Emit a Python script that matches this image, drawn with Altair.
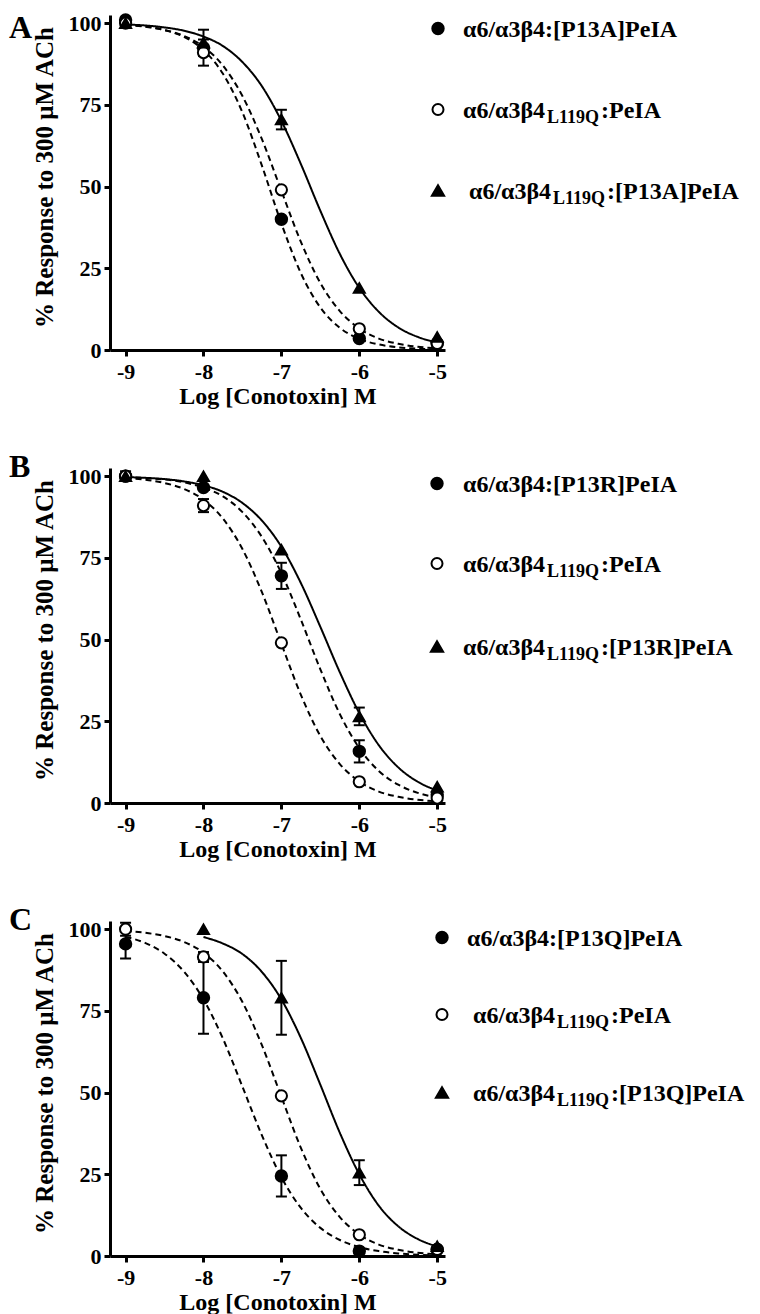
import altair as alt
import pandas as pd

# ---------------- data ----------------
DOSES = [-9, -8, -7, -6, -5]
X_TICKS = [-9, -8, -7, -6, -5]
Y_TICKS = [0, 25, 50, 75, 100]
SERIES = ["mut", "wt", "dbl"]

# fitted-curve samples (log M -> % response)
CURVE_X = [-9.0, -8.75, -8.5, -8.25, -8.0, -7.75, -7.5, -7.25, -7.0,
           -6.75, -6.5, -6.25, -6.0, -5.75, -5.5, -5.25, -5.0]
CURVE_X_FROM8 = [-8.0, -7.75, -7.5, -7.25, -7.0, -6.75, -6.5, -6.25, -6.0,
                 -5.75, -5.5, -5.25, -5.0]

WT_CURVE = [99.4, 98.9, 97.9, 96.1, 92.8, 87.0, 77.7, 64.5, 48.7, 33.1, 20.5, 11.9, 6.6, 3.5, 1.9, 1.0, 0.5]

# Panel A
A_MUT = [101.0, 92.5, 40.0, 3.5, 2.0]
A_MUT_ERR = [0, 0, 0, 0, 0]
A_WT = [100.0, 91.0, 49.0, 6.5, 2.0]
A_WT_ERR = [0, 4.0, 0, 0, 0]
A_DBL = [100.0, 94.0, 70.5, 19.0, 4.0]
A_DBL_ERR = [0, 4.0, 3.0, 0, 0]
A_MUT_CURVE = [99.5, 99.0, 97.9, 95.8, 91.8, 84.5, 72.7, 56.4, 38.7, 23.5, 13.0, 6.8, 3.4, 1.7, 0.8, 0.4, 0.2]
A_DBL_CURVE = [99.6, 99.3, 98.7, 97.7, 95.9, 93.0, 88.1, 80.7, 70.1, 56.9, 42.6, 29.4, 19.0, 11.7, 6.9, 4.0, 2.3]
A_NAMES = [("α6/α3β4:[P13A]PeIA", "", ""),
           ("α6/α3β4", "L119Q", ":PeIA"),
           ("α6/α3β4", "L119Q", ":[P13A]PeIA")]

# Panel B
B_MUT = [100.0, 96.5, 69.5, 15.8, 2.5]
B_MUT_ERR = [1.5, 0, 4.0, 3.4, 0]
B_WT = [100.0, 91.0, 49.0, 6.5, 1.5]
B_WT_ERR = [0, 2.0, 0, 0, 0]
B_DBL = [100.0, 100.0, 77.5, 26.5, 5.0]
B_DBL_ERR = [0, 0, 0, 2.7, 0]
B_MUT_CURVE = [99.7, 99.4, 99.0, 98.1, 96.5, 93.8, 89.0, 81.4, 70.3, 56.1, 40.9, 27.2, 16.8, 9.8, 5.6, 3.1, 1.7]
B_DBL_CURVE = [99.7, 99.5, 99.1, 98.4, 97.2, 95.2, 91.8, 86.4, 78.4, 67.3, 53.9, 40.0, 27.5, 17.7, 10.9, 6.5, 3.8]
B_NAMES = [("α6/α3β4:[P13R]PeIA", "", ""),
           ("α6/α3β4", "L119Q", ":PeIA"),
           ("α6/α3β4", "L119Q", ":[P13R]PeIA")]

# Panel C
C_MUT = [95.5, 79.0, 24.5, 1.5, 2.0]
C_MUT_ERR = [4.5, 11.0, 6.3, 0, 0]
C_WT = [100.0, 91.5, 49.0, 6.5, 2.0]
C_WT_ERR = [2.0, 1.5, 0, 0, 0]
C_DBL = [None, 100.0, 79.0, 25.5, 3.0]
C_DBL_ERR = [0, 0, 11.3, 3.8, 0]
C_MUT_CURVE = [97.7, 95.8, 92.5, 87.0, 78.5, 66.5, 51.8, 36.9, 24.1, 14.7, 8.6, 4.9, 2.7, 1.5, 0.8, 0.4, 0.2]
C_DBL_CURVE = [97.6, 95.6, 92.4, 86.9, 78.5, 66.7, 52.4, 37.7, 25.0, 15.4, 9.1, 5.2, 2.9]
C_NAMES = [("α6/α3β4:[P13Q]PeIA", "", ""),
           ("α6/α3β4", "L119Q", ":PeIA"),
           ("α6/α3β4", "L119Q", ":[P13Q]PeIA")]

# ---------------- styling ----------------
FONT = "Liberation Serif"
W, H = 335, 335
SHAPES = {"mut": "circle", "wt": "circle", "dbl": "triangle-up"}
FILLS = {"mut": "black", "wt": "white", "dbl": "black"}
SIZES = {"mut": 130, "wt": 121, "dbl": 150}


def text_layer(txt, x, y, size, baseline="alphabetic"):
    return alt.Chart(pd.DataFrame({"t": [txt]})).mark_text(
        align="left", baseline=baseline, font=FONT, fontWeight="bold",
        fontSize=size, color="black"
    ).encode(x=alt.value(x), y=alt.value(y), text="t:N")


def panel(letter, letter_y, pts, errs, curves, curve_xs, names, leg):
    rows = []
    for s in SERIES:
        for x, v, e in zip(DOSES, pts[s], errs[s]):
            if v is None:
                continue
            rows.append({"x": x, "y": v, "series": s, "lo": v - e, "hi": v + e, "err": e})
    pdf = pd.DataFrame(rows)
    crow = []
    for s in SERIES:
        for x, v in zip(curve_xs[s], curves[s]):
            crow.append({"x": x, "y": v, "series": s})
    cdf = pd.DataFrame(crow)

    xsc = alt.Scale(domain=[-9.2, -4.9], nice=False, zero=False)
    ysc = alt.Scale(domain=[0, 102.5], nice=False, zero=False)
    xax = alt.Axis(values=X_TICKS, title="Log [Conotoxin] M", labelExpr="'' + datum.value",
                   titleFontSize=24, labelPadding=5, titlePadding=2, grid=False)
    yax = alt.Axis(values=Y_TICKS, title="% Response to 300 μM ACh", labelExpr="'' + datum.value",
                   titleFontSize=25, labelPadding=3, titlePadding=11, titleY=162, grid=False)
    X = alt.X("x:Q", scale=xsc, axis=xax)

    lines = alt.Chart(cdf).mark_line(interpolate="monotone", strokeWidth=2, color="black", opacity=1).encode(
        x=X, y=alt.Y("y:Q", scale=ysc, axis=yax), detail="series:N",
        strokeDash=alt.StrokeDash("series:N", scale=alt.Scale(domain=SERIES, range=[[6, 4], [6, 4], [1, 0]]),
                                  legend=None))
    ebase = alt.Chart(pdf).transform_filter("datum.err > 0")
    rules = ebase.mark_rule(strokeWidth=2, color="black", opacity=1).encode(
        x=X, y=alt.Y("lo:Q", scale=ysc, axis=yax), y2="hi:Q")
    cap_lo = ebase.mark_tick(orient="horizontal", size=11, thickness=2, color="black", opacity=1).encode(
        x=X, y=alt.Y("lo:Q", scale=ysc, axis=yax))
    cap_hi = ebase.mark_tick(orient="horizontal", size=11, thickness=2, color="black", opacity=1).encode(
        x=X, y=alt.Y("hi:Q", scale=ysc, axis=yax))
    points = alt.Chart(pdf).mark_point(filled=True, opacity=1, stroke="black", strokeWidth=2).encode(
        x=X, y=alt.Y("y:Q", scale=ysc, axis=yax),
        shape=alt.Shape("series:N", scale=alt.Scale(domain=SERIES, range=[SHAPES[s] for s in SERIES]), legend=None),
        fill=alt.Fill("series:N", scale=alt.Scale(domain=SERIES, range=[FILLS[s] for s in SERIES]), legend=None),
        size=alt.Size("series:N", scale=alt.Scale(domain=SERIES, range=[SIZES[s] for s in SERIES]), legend=None))

    layers = [lines, rules, cap_lo, cap_hi, points]
    one = pd.DataFrame({"k": [0]})
    for i, s in enumerate(SERIES):
        yy = leg["y"][i]
        layers.append(alt.Chart(one).mark_point(
            filled=True, opacity=1, stroke="black", strokeWidth=2, fill=FILLS[s],
            shape=SHAPES[s], size=SIZES[s]).encode(x=alt.value(leg["mx"]), y=alt.value(yy)))
        main, sub, rest = names[i]
        tx = leg["tx"][i]
        layers.append(text_layer(main, tx, yy + 8, 24))
        if sub:
            layers.append(text_layer(sub, tx + 84, yy + 13, 18))
            layers.append(text_layer(rest, tx + 84 + 54, yy + 8, 24))
    layers.append(text_layer(letter, -101, letter_y, 32, baseline="top"))
    return alt.layer(*layers).properties(width=W, height=H)


pA = panel("A", -2,
           {"mut": A_MUT, "wt": A_WT, "dbl": A_DBL},
           {"mut": A_MUT_ERR, "wt": A_WT_ERR, "dbl": A_DBL_ERR},
           {"mut": A_MUT_CURVE, "wt": WT_CURVE, "dbl": A_DBL_CURVE},
           {"mut": CURVE_X, "wt": CURVE_X, "dbl": CURVE_X},
           A_NAMES, {"mx": 328, "tx": [353, 353, 359], "y": [13.5, 94.5, 175.5]})
pB = panel("B", -16.5,
           {"mut": B_MUT, "wt": B_WT, "dbl": B_DBL},
           {"mut": B_MUT_ERR, "wt": B_WT_ERR, "dbl": B_DBL_ERR},
           {"mut": B_MUT_CURVE, "wt": WT_CURVE, "dbl": B_DBL_CURVE},
           {"mut": CURVE_X, "wt": CURVE_X, "dbl": CURVE_X},
           B_NAMES, {"mx": 327, "tx": [353, 353, 353], "y": [15.5, 95.5, 178.5]})
pC = panel("C", -16.5,
           {"mut": C_MUT, "wt": C_WT, "dbl": C_DBL},
           {"mut": C_MUT_ERR, "wt": C_WT_ERR, "dbl": C_DBL_ERR},
           {"mut": C_MUT_CURVE, "wt": WT_CURVE, "dbl": C_DBL_CURVE},
           {"mut": CURVE_X, "wt": CURVE_X, "dbl": CURVE_X_FROM8},
           C_NAMES, {"mx": 332, "tx": [357, 363, 363], "y": [16.5, 93.5, 171.5]})

chart = alt.vconcat(pA, pB, pC, spacing=118, bounds="flush").properties(
    padding={"left": 1, "top": 2, "right": 4, "bottom": 0}
).configure_view(stroke=None).configure_axis(
    labelFont=FONT, labelFontWeight="bold", labelFontSize=22, labelColor="black",
    titleFont=FONT, titleFontWeight="bold", titleColor="black",
    domainColor="black", domainWidth=3, tickColor="black", tickWidth=3, tickSize=6, grid=False
)

chart.save("out.html", embed_options={"renderer": "svg", "actions": False})
